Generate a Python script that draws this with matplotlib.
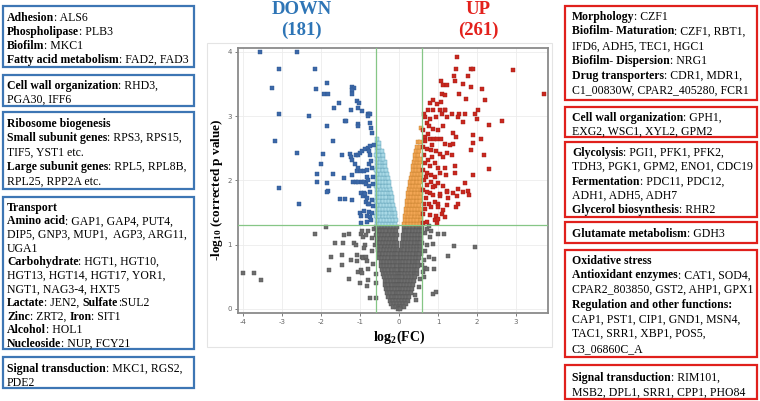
import numpy as np
import matplotlib
matplotlib.use("Agg")
import matplotlib.pyplot as plt
from matplotlib.patches import Rectangle

plt.rcParams['axes.unicode_minus'] = False
plt.rcParams['mathtext.fontset'] = 'custom'
plt.rcParams['mathtext.rm'] = 'Liberation Serif:bold'
plt.rcParams['mathtext.bf'] = 'Liberation Serif:bold'
plt.rcParams['mathtext.it'] = 'Liberation Serif:bold'

# ---------------- data (log2 FC, -log10 corrected p) ----------------
down_pts = [(-3.55,3.99),(-2.61,3.99),(-3.06,3.74),(-2.14,3.74),(-3.25,3.43),(-2.12,3.42),(-1.85,3.51),
 (-1.91,3.34),(-1.82,3.34),(-1.54,3.20),(-1.67,3.13),(-3.07,3.04),(-2.30,3.00),(-1.19,3.45),(-1.16,3.44),
 (-1.20,3.40),(-1.21,3.34),(-1.07,3.23),(-1.03,3.20),(-1.05,3.13),(-1.22,3.09),(-0.94,3.08),(-0.80,3.04),
 (-0.77,3.04),(-0.75,3.04),(-0.79,3.00),(-1.38,2.93),(-1.36,2.92),(-1.84,2.84),(-1.05,2.88),(-1.04,2.84),
 (-0.73,2.89),(-0.72,2.81),(-0.70,2.73),(-3.18,2.61),(-2.62,2.43),(-1.69,2.61),(-1.94,2.41),(-1.99,2.26),
 (-1.45,2.40),(-1.26,2.41),(-1.22,2.36),(-1.20,2.32),(-1.11,2.40),(-1.06,2.39),(-0.99,2.42),(-0.94,2.45),
 (-0.86,2.49),(-0.79,2.51),(-0.76,2.46),(-0.75,2.54),(-0.73,2.40),(-1.12,2.25),(-1.08,2.14),(-1.05,2.19),
 (-0.96,2.14),(-0.90,2.14),(-0.81,2.16),(-2.10,2.10),(-1.68,2.10),(-1.19,2.09),(-1.40,2.04),(-2.11,1.98),
 (-1.85,1.96),(-1.82,1.84),(-3.06,1.88),(-1.18,1.97),(-1.11,1.97),(-1.05,1.97),(-0.95,1.98),(-0.89,1.97),
 (-0.84,1.94),(-0.78,2.00),(-0.77,1.91),(-0.74,1.82),(-0.89,1.81),(-0.83,2.05),(-0.77,2.25),(-0.71,2.30),
 (-1.83,1.82),(-1.51,1.71),(-1.38,1.71),(-1.19,1.70),(-2.56,1.63),(-0.97,1.80),(-0.91,1.76),(-0.84,1.67),
 (-0.80,1.64),(-0.76,1.63),(-1.00,1.49),(-0.98,1.44),(-0.96,1.33),(-0.90,1.53),(-0.82,1.45),(-0.81,1.35),
 (-0.76,1.51),(-0.73,1.43),(-0.71,1.38),(-0.88,1.79),(-0.83,1.73),(-0.68,2.20),(-0.66,1.95),(-0.67,1.60),
 (-0.65,2.55),(-0.69,1.70),(-0.66,2.05),(-0.70,1.50)]

up_pts = [(1.48,3.92),(1.46,3.74),(1.84,3.74),(1.90,3.74),(2.91,3.71),(3.71,3.34),(1.42,3.62),(1.77,3.62),
 (1.07,3.54),(1.13,3.49),(1.22,3.49),(1.44,3.54),(1.64,3.50),(1.84,3.45),(2.14,3.42),(1.11,3.34),(1.18,3.33),
 (1.53,3.34),(1.71,3.26),(2.21,3.25),(0.79,3.21),(0.88,3.25),(0.98,3.19),(1.07,3.22),(1.17,3.10),(0.75,3.10),
 (0.88,3.09),(1.05,3.10),(1.19,3.10),(1.37,3.04),(1.55,3.04),(2.02,3.10),(0.64,3.03),(0.68,2.98),(0.79,2.96),
 (0.95,2.99),(1.10,3.03),(1.24,2.99),(1.52,2.98),(1.64,2.91),(1.68,3.03),(1.94,3.03),(1.99,2.96),(2.64,2.93),
 (2.31,2.86),(0.71,2.89),(0.78,2.84),(0.88,2.80),(1.01,2.78),(1.13,2.84),(1.39,2.73),(1.47,2.68),(1.90,2.71),
 (2.09,2.65),(0.61,2.78),(0.67,2.68),(0.79,2.65),(0.90,2.64),(0.98,2.65),(1.07,2.64),(1.18,2.56),(1.30,2.55),
 (1.39,2.57),(1.90,2.58),(0.62,2.52),(0.71,2.49),(0.83,2.48),(0.96,2.45),(1.05,2.41),(1.13,2.37),(1.24,2.42),
 (1.35,2.40),(1.85,2.48),(2.18,2.40),(2.31,2.18),(0.64,2.40),(0.75,2.32),(0.79,2.23),(0.92,2.27),(1.01,2.19),
 (1.18,2.19),(1.44,2.23),(0.61,2.16),(0.71,2.11),(0.83,2.08),(0.92,2.06),(1.05,2.11),(1.20,2.08),(1.44,2.11),
 (1.90,2.09),(0.65,2.00),(0.73,1.93),(0.81,1.98),(0.92,1.92),(1.01,1.96),(1.13,1.91),(1.22,1.83),(1.39,1.81),
 (1.52,1.86),(1.69,1.96),(1.77,1.83),(0.62,1.85),(0.79,1.81),(1.05,1.75),(0.71,1.82),(0.88,1.77),(1.05,1.79),
 (1.22,1.82),(1.64,1.82),(1.80,1.77),(0.70,1.72),(0.78,1.64),(0.92,1.66),(1.01,1.64),(0.83,1.59),(0.99,1.59),
 (1.13,1.54),(1.22,1.61),(1.46,1.59),(1.52,1.64),(0.79,1.46),(0.92,1.39),(0.98,1.33),(0.62,1.33),(0.72,1.36),
 (0.61,1.48),(0.64,1.63),(1.11,1.48),(1.18,1.43),(1.26,1.72),(1.49,1.75),(0.94,1.44),(1.01,1.40),(0.66,2.27),
 (0.69,2.05),(0.68,1.55),(0.85,2.36),(0.86,1.90),(0.66,2.62),(0.74,2.72),(0.84,2.55)]

# light blue: significant p, small negative FC  (row y -> x values)
lightblue_rows = [
 (1.32,[-0.57,-0.49,-0.41,-0.33,-0.25,-0.17,-0.09]),
 (1.38,[-0.55,-0.47,-0.39,-0.31,-0.23,-0.15,-0.08]),
 (1.44,[-0.58,-0.50,-0.42,-0.34,-0.26,-0.18,-0.10]),
 (1.50,[-0.56,-0.48,-0.40,-0.32,-0.24,-0.16,-0.11]),
 (1.56,[-0.57,-0.49,-0.41,-0.33,-0.25,-0.17,-0.12]),
 (1.62,[-0.55,-0.47,-0.39,-0.31,-0.23,-0.15]),
 (1.68,[-0.58,-0.50,-0.42,-0.34,-0.26,-0.17]),
 (1.74,[-0.56,-0.48,-0.40,-0.32,-0.24,-0.19]),
 (1.80,[-0.57,-0.49,-0.41,-0.33,-0.25,-0.20]),
 (1.86,[-0.55,-0.47,-0.39,-0.31,-0.22]),
 (1.92,[-0.58,-0.50,-0.42,-0.34,-0.25]),
 (1.98,[-0.56,-0.48,-0.40,-0.32,-0.26]),
 (2.04,[-0.57,-0.49,-0.41,-0.33,-0.28]),
 (2.10,[-0.55,-0.47,-0.39,-0.30]),
 (2.16,[-0.58,-0.50,-0.42,-0.33]),
 (2.22,[-0.56,-0.48,-0.40,-0.35]),
 (2.28,[-0.57,-0.49,-0.41,-0.37]),
 (2.34,[-0.55,-0.47,-0.40]),
 (2.40,[-0.58,-0.50,-0.42]),
 (2.46,[-0.56,-0.49,-0.44]),
 (2.52,[-0.57,-0.50]),
 (2.58,[-0.55,-0.51]),
 (2.65,[-0.57]),
]

# orange: significant p, small positive FC
orange_rows = [
 (1.32,[0.14,0.22,0.30,0.38,0.46,0.54]),
 (1.38,[0.15,0.23,0.31,0.39,0.47,0.56]),
 (1.44,[0.16,0.24,0.32,0.40,0.48,0.57]),
 (1.50,[0.17,0.25,0.33,0.41,0.49,0.55]),
 (1.56,[0.18,0.26,0.34,0.42,0.50,0.57]),
 (1.62,[0.20,0.28,0.36,0.44,0.52]),
 (1.68,[0.21,0.29,0.37,0.45,0.53]),
 (1.74,[0.23,0.31,0.39,0.47,0.55]),
 (1.80,[0.24,0.32,0.40,0.48,0.56]),
 (1.86,[0.26,0.34,0.42,0.50,0.57]),
 (1.92,[0.28,0.36,0.44,0.52]),
 (1.98,[0.29,0.37,0.45,0.53]),
 (2.04,[0.31,0.39,0.47,0.55]),
 (2.10,[0.33,0.41,0.49,0.56]),
 (2.16,[0.35,0.43,0.51]),
 (2.22,[0.36,0.44,0.52]),
 (2.28,[0.38,0.46,0.54]),
 (2.34,[0.40,0.48,0.55]),
 (2.40,[0.42,0.50]),
 (2.46,[0.44,0.52]),
 (2.52,[0.47,0.54]),
 (2.60,[0.50,0.55]),
 (2.82,[0.56]),
]

# gray: not significant (rows of the V)
gray_rows = [
 (1.27,[-0.60,-0.52,-0.44,-0.36,-0.28,-0.20,-0.12,-0.06,0.13,0.21,0.29,0.37,0.45,0.53,0.60]),
 (1.21,[-0.56,-0.48,-0.40,-0.32,-0.24,-0.16,-0.08,0.12,0.19,0.27,0.35,0.43,0.51,0.58]),
 (1.15,[-0.59,-0.51,-0.43,-0.35,-0.27,-0.19,-0.11,-0.05,0.11,0.18,0.26,0.34,0.42,0.50,0.57]),
 (1.09,[-0.55,-0.47,-0.39,-0.31,-0.23,-0.15,-0.07,0.10,0.17,0.25,0.33,0.41,0.49,0.56]),
 (1.03,[-0.57,-0.49,-0.41,-0.33,-0.25,-0.17,-0.09,-0.04,0.09,0.16,0.24,0.32,0.40,0.48,0.55]),
 (0.97,[-0.53,-0.45,-0.37,-0.29,-0.21,-0.13,-0.06,0.08,0.15,0.23,0.31,0.39,0.47,0.54]),
 (0.91,[-0.54,-0.46,-0.38,-0.30,-0.22,-0.14,-0.07,-0.03,0.07,0.14,0.22,0.30,0.38,0.46,0.53]),
 (0.85,[-0.50,-0.42,-0.34,-0.26,-0.18,-0.10,-0.04,0.06,0.13,0.21,0.29,0.37,0.45,0.52]),
 (0.79,[-0.51,-0.43,-0.35,-0.27,-0.19,-0.11,-0.05,0.06,0.12,0.20,0.28,0.36,0.44,0.51]),
 (0.73,[-0.47,-0.39,-0.31,-0.23,-0.15,-0.08,-0.03,0.05,0.11,0.19,0.27,0.35,0.43,0.50]),
 (0.67,[-0.46,-0.38,-0.30,-0.22,-0.14,-0.06,0.04,0.10,0.18,0.26,0.34,0.42,0.48]),
 (0.61,[-0.43,-0.35,-0.27,-0.19,-0.11,-0.04,0.04,0.09,0.17,0.25,0.33,0.41,0.46]),
 (0.55,[-0.42,-0.34,-0.26,-0.18,-0.10,-0.03,0.03,0.08,0.16,0.24,0.32,0.40,0.45]),
 (0.49,[-0.39,-0.31,-0.23,-0.15,-0.07,-0.02,0.03,0.09,0.17,0.25,0.33,0.41]),
 (0.43,[-0.37,-0.29,-0.21,-0.13,-0.06,0.02,0.08,0.16,0.24,0.32,0.38]),
 (0.37,[-0.35,-0.27,-0.19,-0.11,-0.04,0.00,0.05,0.13,0.21,0.29,0.36]),
 (0.31,[-0.33,-0.25,-0.17,-0.09,-0.02,0.04,0.11,0.19,0.27,0.34]),
 (0.25,[-0.30,-0.22,-0.14,-0.06,0.00,0.07,0.15,0.23,0.30]),
 (0.19,[-0.27,-0.19,-0.11,-0.04,0.03,0.10,0.18,0.26]),
 (0.13,[-0.24,-0.16,-0.08,0.00,0.07,0.15,0.22]),
 (0.08,[-0.20,-0.12,-0.04,0.03,0.10,0.17]),
 (0.03,[-0.15,-0.07,0.00,0.06,0.12]),
 (0.00,[-0.03,0.03]),
]
gray_outliers = [(-4.00,0.56),(-3.72,0.56),(-3.53,0.45),(-2.16,1.17),(-1.88,1.27),(-1.64,1.03),(-1.75,0.81),
 (-1.79,0.61),(-1.44,1.02),(-1.47,0.84),(-1.47,0.68),(-1.40,1.15),(-1.27,1.17),(-1.28,0.46),(-1.24,0.76),
 (-1.14,1.02),(-1.10,1.00),(-1.08,0.84),(-1.08,0.75),(-1.05,0.58),(-0.99,0.40),(-0.98,1.17),(-0.94,1.22),
 (-0.92,1.12),(-0.95,0.81),(-0.91,0.79),(-0.96,0.61),(-0.94,0.56),(-0.86,0.99),(-0.84,0.81),(-0.83,0.75),
 (-0.83,0.35),(-0.79,0.62),(-0.78,1.21),(-0.74,0.17),(-0.78,0.45),(-0.85,1.15),(-0.89,0.95),(-0.70,1.10),
 (-0.68,0.90),(-0.66,0.70),(-0.64,1.25),(-0.58,0.17),(-0.58,0.40),(-0.60,0.55),(-0.62,1.00),
 (0.71,1.25),(0.83,1.22),(0.79,1.12),(0.87,1.01),(1.01,1.17),(1.15,1.16),(1.41,0.98),(1.95,0.97),
 (1.26,0.82),(0.91,0.77),(0.66,0.63),(0.72,0.62),(0.91,0.62),(0.88,0.23),(0.96,0.27),(0.54,0.47),
 (0.63,0.49),(0.51,0.34),(0.44,0.14),(0.60,1.02),(0.71,1.00),(0.66,0.90),(0.76,0.81),(0.65,0.76),
 (0.60,0.68),(0.62,0.58),(0.78,1.29),(0.66,1.18),(0.56,0.85),(0.40,0.22)]

down_total = 181
up_total = 261

W, H = 760, 401
fig = plt.figure(figsize=(W/100, H/100), dpi=100)
fig.patch.set_facecolor('white')

# overlay in pixel coordinates
bg = fig.add_axes([0, 0, 1, 1])
bg.set_xlim(0, W)
bg.set_ylim(H, 0)
bg.axis('off')

# plot panel frame
bg.add_patch(Rectangle((207, 43), 345, 304, fill=False, edgecolor='#e4e4e4', lw=0.8))

# ---------------- volcano axes ----------------
ax = fig.add_axes([237.7/W, 1-313.3/H, 310/W, 265.3/H])
ax.set_xlim(-4.13, 3.81)
ax.set_ylim(-0.067, 4.06)
ax.set_xticks([-4, -3, -2, -1, 0, 1, 2, 3])
ax.set_yticks([0, 1, 2, 3, 4])
ax.grid(True, color='#ececec', lw=0.6)
ax.set_axisbelow(True)
for s in ax.spines.values():
    s.set_color('#8a8a8a')
    s.set_linewidth(1.3)
ax.tick_params(labelsize=5, colors='#666666', length=2.5, width=0.6, pad=1.5)

def rows_to_xy(rows):
    xs, ys = [], []
    for y, xl in rows:
        for x in xl:
            xs.append(x); ys.append(y)
    return np.array(xs), np.array(ys)

gx, gy = rows_to_xy(gray_rows)
go = np.array(gray_outliers)
ms = 10
ax.scatter(np.r_[go[:, 0], gx], np.r_[go[:, 1], gy], s=ms, marker='s', c='#6d6d6d',
           edgecolors='#505050', linewidths=0.3, zorder=2)
lbx, lby = rows_to_xy(lightblue_rows)
ax.scatter(lbx, lby, s=ms, marker='s', c='#a9d9e6', edgecolors='#5b9eb5', linewidths=0.3, zorder=2)
ox, oy = rows_to_xy(orange_rows)
ax.scatter(ox, oy, s=ms, marker='s', c='#f2a654', edgecolors='#c47f2c', linewidths=0.3, zorder=2)
dp = np.array(down_pts)
ax.scatter(dp[:, 0], dp[:, 1], s=ms, marker='s', c='#3c68a8', edgecolors='#2b5590', linewidths=0.3, zorder=2)
up = np.array(up_pts)
ax.scatter(up[:, 0], up[:, 1], s=ms, marker='s', c='#c9281f', edgecolors='#a11c15', linewidths=0.3, zorder=2)

fc_thr = np.log2(1.5)
p_thr = -np.log10(0.05)
ax.axvline(-fc_thr, color='#86c686', lw=0.9, zorder=3)
ax.axvline(fc_thr, color='#86c686', lw=0.9, zorder=3)
ax.axhline(p_thr, color='#86c686', lw=0.9, zorder=3)

# axis labels
bg.text(217, 190, r'-log$_{\mathrm{10}}$ (corrected p value)', rotation=90, ha='center', va='center',
        family='Liberation Serif', fontweight='bold', fontsize=9.5)
bg.text(399, 337, r'log$_{\mathrm{2}}$(FC)', ha='center', va='center',
        family='Liberation Serif', fontweight='bold', fontsize=10)

# titles
tkw = dict(ha='center', va='baseline', family='Liberation Serif', fontweight='bold', fontsize=13.5)
bg.text(301.7, 14.5, 'DOWN', color='#2e75b6', **tkw)
bg.text(301.7, 35, f'({down_total})', color='#2e75b6', **tkw)
bg.text(478.5, 14.5, 'UP', color='#e3211c', **tkw)
bg.text(478.5, 35, f'({up_total})', color='#e3211c', **tkw)

# ---------------- text boxes ----------------
FS = 8.5
def draw_line(x, yc, segs):
    prev = None
    for txt, b in segs:
        kw = dict(family='Liberation Serif', fontweight='bold' if b else 'normal', fontsize=FS,
                  ha='left', color='black')
        if prev is None:
            prev = bg.text(x, yc + 3.7, txt, va='baseline', **kw)
        else:
            prev = bg.annotate(txt, xy=(1, 0), xycoords=prev, va='bottom', **kw)

def draw_box(x0, y0, x1, y1, color, lines, ycs, tx):
    bg.add_patch(Rectangle((x0, y0), x1 - x0, y1 - y0, fill=False, edgecolor=color, lw=1.6))
    for segs, yc in zip(lines, ycs):
        draw_line(tx, yc, segs)

BLUE = '#3d76b4'
RED = '#e0201c'
L1 = [[("Adhesion", 1), (": ALS6", 0)],
      [("Phospholipase", 1), (": PLB3", 0)],
      [("Biofilm", 1), (": MKC1", 0)],
      [("Fatty acid metabolism", 1), (": FAD2, FAD3", 0)]]
L2 = [[("Cell wall organization", 1), (": RHD3,", 0)], [("PGA30, IFF6", 0)]]
L3 = [[("Ribosome biogenesis", 1)],
      [("Small subunit genes", 1), (": RPS3, RPS15,", 0)],
      [("TIF5, YST1 etc.", 0)],
      [("Large subunit genes", 1), (": RPL5, RPL8B,", 0)],
      [("RPL25, RPP2A etc.", 0)]]
L4 = [[("Transport", 1)],
      [("Amino acid", 1), (": GAP1, GAP4, PUT4,", 0)],
      [("DIP5, GNP3, MUP1,  AGP3, ARG11,", 0)],
      [("UGA1", 0)],
      [("Carbohydrate", 1), (": HGT1, HGT10,", 0)],
      [("HGT13, HGT14, HGT17, YOR1,", 0)],
      [("NGT1, NAG3-4, HXT5", 0)],
      [("Lactate", 1), (": JEN2, ", 0), ("Sulfate", 1), (":SUL2", 0)],
      [("Zinc", 1), (": ZRT2, ", 0), ("Iron", 1), (": SIT1", 0)],
      [("Alcohol", 1), (": HOL1", 0)],
      [("Nucleoside", 1), (": NUP, FCY21", 0)]]
L5 = [[("Signal transduction", 1), (": MKC1, RGS2,", 0)], [("PDE2", 0)]]

R1 = [[("Morphology", 1), (": CZF1", 0)],
      [("Biofilm- Maturation", 1), (": CZF1, RBT1,", 0)],
      [("IFD6, ADH5, TEC1, HGC1", 0)],
      [("Biofilm- Dispersion", 1), (": NRG1", 0)],
      [("Drug transporters", 1), (": CDR1, MDR1,", 0)],
      [("C1_00830W, CPAR2_405280, FCR1", 0)]]
R2 = [[("Cell wall organization", 1), (": GPH1,", 0)], [("EXG2, WSC1, XYL2, GPM2", 0)]]
R3 = [[("Glycolysis", 1), (": PGI1, PFK1, PFK2,", 0)],
      [("TDH3, PGK1, GPM2, ENO1, CDC19", 0)],
      [("Fermentation", 1), (": PDC11, PDC12,", 0)],
      [("ADH1, ADH5, ADH7", 0)],
      [("Glycerol biosynthesis", 1), (": RHR2", 0)]]
R4 = [[("Glutamate metabolism", 1), (": GDH3", 0)]]
R5 = [[("Oxidative stress", 1)],
      [("Antioxidant enzymes", 1), (": CAT1, SOD4,", 0)],
      [("CPAR2_803850, GST2, AHP1, GPX1", 0)],
      [("Regulation and other functions:", 1)],
      [("CAP1, PST1, CIP1, GND1, MSN4,", 0)],
      [("TAC1, SRR1, XBP1, POS5,", 0)],
      [("C3_06860C_A", 0)]]
R6 = [[("Signal transduction", 1), (": RIM101,", 0)], [("MSB2, DPL1, SRR1, CPP1, PHO84", 0)]]

lx0, lx1, ltx = 2.5, 194, 7
draw_box(lx0, 6, lx1, 67, BLUE, L1, [17.5, 31.3, 45.1, 58.9], ltx)
draw_box(lx0, 75, lx1, 106, BLUE, L2, [85.5, 99], ltx)
draw_box(lx0, 112, lx1, 189, BLUE, L3, [123, 137.5, 152, 166.5, 181], ltx)
draw_box(lx0, 197, lx1, 349, BLUE, L4, [207 + 13.6 * i for i in range(11)], ltx)
draw_box(lx0, 357, lx1, 388, BLUE, L5, [368, 382], ltx)

rx0, rx1, rtx = 565, 757, 572
draw_box(rx0, 6, rx1, 100, RED, R1, [16 + 14.8 * i for i in range(6)], rtx)
draw_box(rx0, 107, rx1, 137, RED, R2, [117, 131], rtx)
draw_box(rx0, 142, rx1, 217, RED, R3, [152, 166.5, 181, 195.5, 209], rtx)
draw_box(rx0, 222, rx1, 243, RED, R4, [233], rtx)
draw_box(rx0, 250, rx1, 357, RED, R5, [260 + 14.67 * i for i in range(7)], rtx)
draw_box(rx0, 365, rx1, 399, RED, R6, [377, 392], rtx)

fig.savefig('out.png', dpi=100, facecolor='white')
